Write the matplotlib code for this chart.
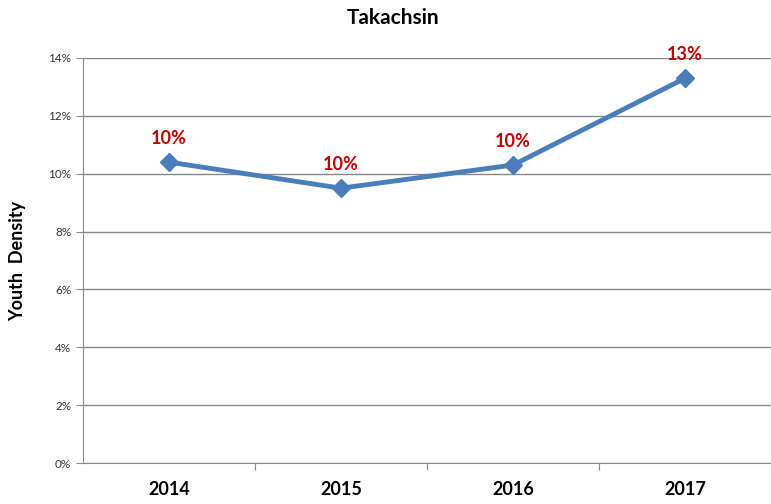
import matplotlib
matplotlib.use("Agg")
import matplotlib.pyplot as plt
from matplotlib.ticker import FuncFormatter

years = ["2014", "2015", "2016", "2017"]
density = [10.4, 9.5, 10.3, 13.3]
point_labels = ["10%", "10%", "10%", "13%"]

plt.rcParams['font.family'] = ['Lato', 'DejaVu Sans']

fig = plt.figure(figsize=(7.71, 5.04), dpi=100)
ax = fig.add_axes([83/771, 1 - 463/504, 1 - 83/771, (463 - 58)/504])

x = list(range(len(years)))
ax.plot(x, density, color="#4A7EBB", linewidth=3.5, marker="D", markersize=9,
        markerfacecolor="#4A7EBB", markeredgecolor="#4A7EBB", zorder=3)

for xi, yi, lab in zip(x, density, point_labels):
    ax.annotate(lab, (xi, yi), xytext=(0, 11), textcoords="offset points",
                ha="center", va="bottom", color="#C00000", fontsize=13, fontweight="bold")

ax.set_xlim(-0.5, 3.5)
ax.set_ylim(0, 14)
ax.set_yticks(range(0, 15, 2))
ax.yaxis.set_major_formatter(FuncFormatter(lambda v, p: f"{int(v)}%"))
ax.set_xticks([0.5, 1.5, 2.5, 3.5], minor=False)
ax.set_xticklabels([])
ax.set_xticks(x, minor=True)
ax.set_xticklabels(years, minor=True, fontsize=13, fontweight="bold")
ax.tick_params(axis="x", which="minor", length=0, pad=13)
ax.tick_params(axis="x", which="major", length=5, color="#888888")
ax.tick_params(axis="y", length=5, color="#888888", labelsize=8.5, labelcolor="#333333")

ax.grid(axis="y", color="#888888", linewidth=1)
ax.set_axisbelow(True)
for s in ["top", "right"]:
    ax.spines[s].set_visible(False)
for s in ["left", "bottom"]:
    ax.spines[s].set_color("#888888")

ax.set_ylabel("Youth  Density", fontsize=13, fontweight="bold", labelpad=16)
fig.text(393/771, 1 - 18/504, "Takachsin", ha="center", va="center",
         fontsize=15, fontweight="bold")

fig.savefig("out.png", dpi=100)
